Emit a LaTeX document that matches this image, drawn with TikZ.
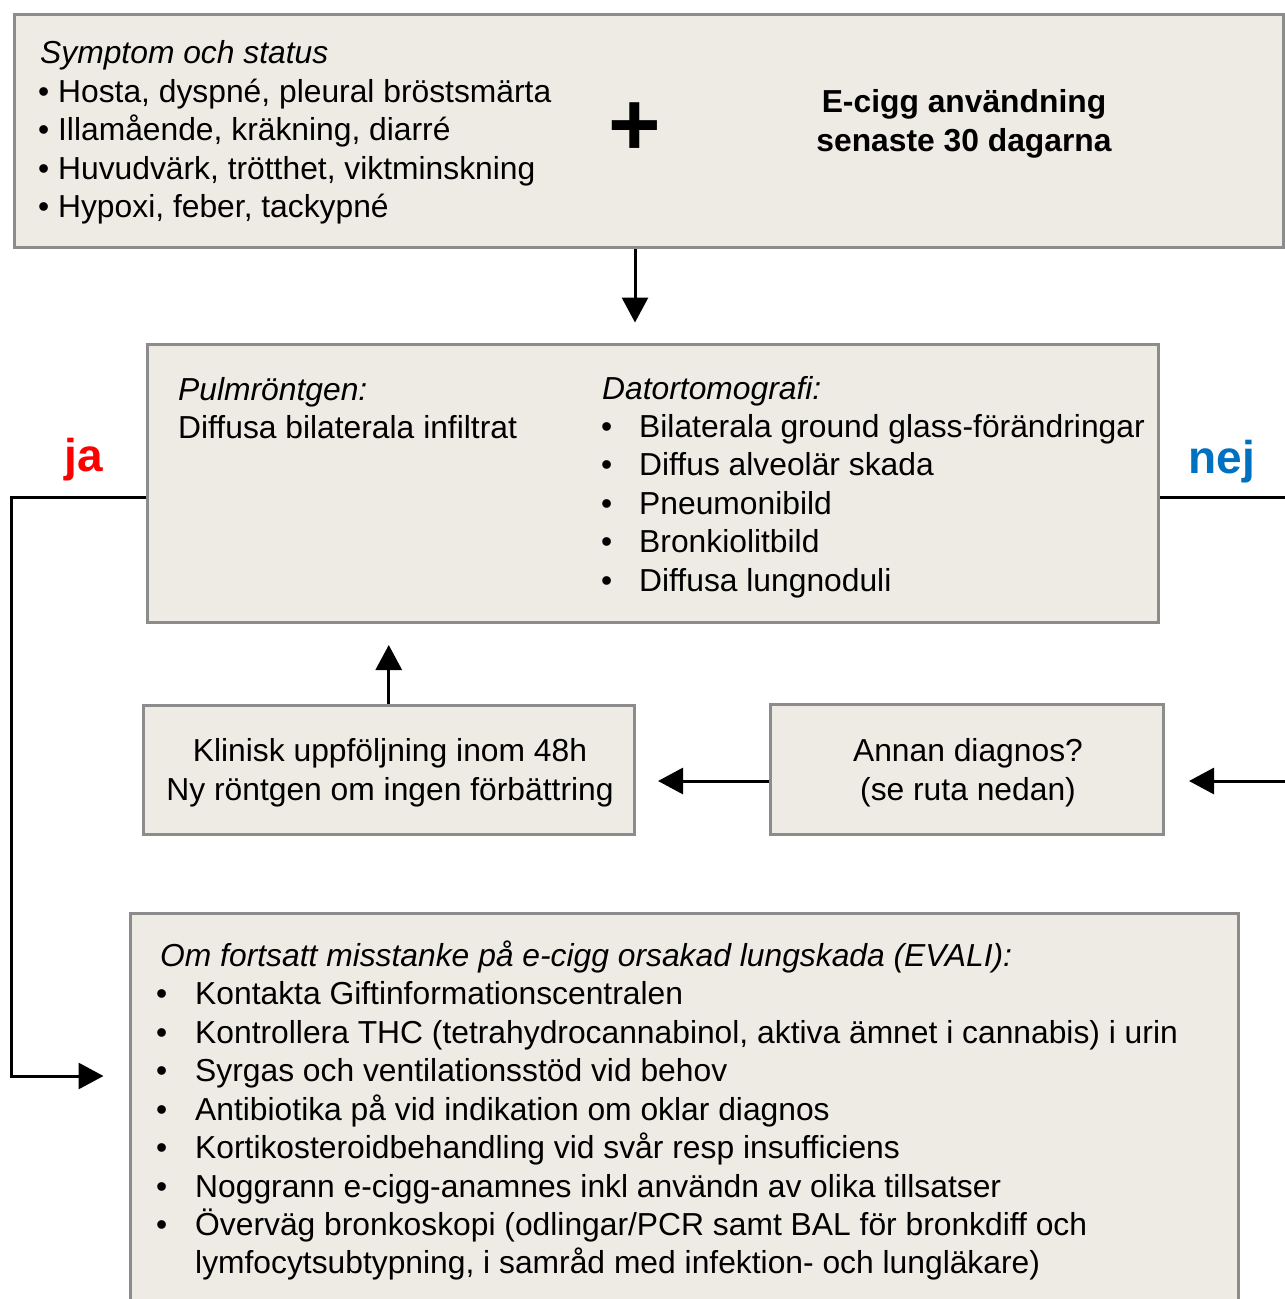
\documentclass[tikz,border=0pt]{standalone}
\usepackage{fontspec}
\setmainfont{Liberation Sans}
\usetikzlibrary{arrows.meta}

\definecolor{boxfill}{HTML}{EEEBE4}
\definecolor{boxgray}{HTML}{8C8C8C}
\definecolor{jared}{HTML}{FF0000}
\definecolor{nejblue}{HTML}{0070C0}

\begin{document}
\begin{tikzpicture}[x=1pt, y=-1pt,
	box/.style={draw=boxgray, line width=3.5pt, fill=boxfill, anchor=north west, inner sep=0pt},
	txt/.style={anchor=base west, inner sep=0pt, font=\fontsize{31.8}{38.5}\selectfont},
	ctxt/.style={anchor=base, inner sep=0pt, font=\fontsize{31.8}{38.5}\selectfont},
	answer/.style={anchor=base, inner sep=0pt, font=\fontsize{46}{46}\bfseries\selectfont},
	flow/.style={line width=3pt, -{Triangle[length=25pt, width=26pt]}},
	link/.style={line width=3pt}]

	\clip (0, 0) rectangle (1285, 1299);

	% Boxes

	\node [box, minimum width=1269pt, minimum height=233pt] (top) at (12.5, 12.5) {};
	\node [box, minimum width=1011pt, minimum height=278pt] (midbox) at (145.5, 342.5) {};
	\node [box, minimum width=491pt, minimum height=129pt] (klin) at (141.5, 703.5) {};
	\node [box, minimum width=393pt, minimum height=130pt] (annan) at (768.5, 702.5) {};
	\node [box, minimum width=1108pt, minimum height=430pt] (bottom) at (128.5, 911.5) {};

	% Symptom och status

	\node [txt] (symhead) at (40, 63.5) {\itshape Symptom och status};
	\foreach \t [count=\i] in {{Hosta, dyspné, pleural bröstsmärta},
		{Illamående, kräkning, diarré}, {Huvudvärk, trötthet, viktminskning},
		{Hypoxi, feber, tackypné}}
		\node [txt] (sym\i) at (38, 63.5 + 38.5*\i) {• \t};

	\node [anchor=center, inner sep=0pt, font=\fontsize{90}{90}\bfseries\selectfont] (plus) at (635, 129) {+};

	\node [ctxt] (ecig1) at (964, 112) {\bfseries E-cigg användning};
	\node [ctxt] (ecig2) at (964, 151) {\bfseries senaste 30 dagarna};

	% Bilddiagnostik

	\node [txt] (pulmhead) at (178, 400) {\itshape Pulmröntgen:};
	\node [txt] (pulm) at (178, 438) {Diffusa bilaterala infiltrat};

	\node [txt] (dthead) at (602, 399) {\itshape Datortomografi:};
	\foreach \t [count=\i] in {Bilaterala ground glass-förändringar, Diffus alveolär skada,
		Pneumonibild, Bronkiolitbild, Diffusa lungnoduli}
	{
		\node [txt] (dtb\i) at (601, 398.5 + 38.5*\i) {•};
		\node [txt] (dt\i) at (639, 398.5 + 38.5*\i) {\t};
	}

	% ja / nej

	\node [answer, text=jared] (ja) at (84, 471) {ja};
	\node [answer, text=nejblue] (nej) at (1222, 473) {nej};

	% Uppföljning

	\node [ctxt] (klin1) at (390, 761) {Klinisk uppföljning inom 48h};
	\node [ctxt] (klin2) at (390, 800) {Ny röntgen om ingen förbättring};

	\node [ctxt] (annan1) at (968, 761) {Annan diagnos?};
	\node [ctxt] (annan2) at (968, 800) {(se ruta nedan)};

	% EVALI

	\node [txt] (evalihead) at (160, 966) {\itshape Om fortsatt misstanke på e-cigg orsakad lungskada (EVALI):};
	\foreach \t [count=\i] in {Kontakta Giftinformationscentralen,
		{Kontrollera THC (tetrahydrocannabinol, aktiva ämnet i cannabis) i urin},
		Syrgas och ventilationsstöd vid behov,
		Antibiotika på vid indikation om oklar diagnos,
		Kortikosteroidbehandling vid svår resp insufficiens,
		Noggrann e-cigg-anamnes inkl användn av olika tillsatser,
		Överväg bronkoskopi (odlingar/PCR samt BAL för bronkdiff och}
	{
		\node [txt] (evb\i) at (156, 966 + 38.5*\i) {•};
		\node [txt] (ev\i) at (195, 966 + 38.5*\i) {\t};
	}
	\node [txt] (ev8) at (195, 1273.5) {lymfocytsubtypning, i samråd med infektion- och lungläkare)};

	% Connectors

	\coordinate (jacorner) at (11, 497);
	\coordinate (jafoot) at (11, 1076);
	\coordinate (nejend) at (1285, 497);
	\coordinate (rowline) at (1285, 781);

	\draw [flow, shorten >=20pt] (plus |- top.south) -- (plus |- midbox.north);
	\draw [flow, shorten >=21pt] (klin.north) -- (klin.north |- midbox.south);
	\draw [flow, shorten >=22pt] (annan.west |- rowline) -- (klin.east |- rowline);
	\draw [flow, shorten >=24pt] (rowline) -- (annan.east |- rowline);
	\draw [link] (midbox.east |- nejend) -- (nejend);
	\draw [flow, shorten >=25pt] (midbox.west |- jacorner) -- (jacorner) -- (jafoot) -- (bottom.west |- jafoot);

\end{tikzpicture}
\end{document}
